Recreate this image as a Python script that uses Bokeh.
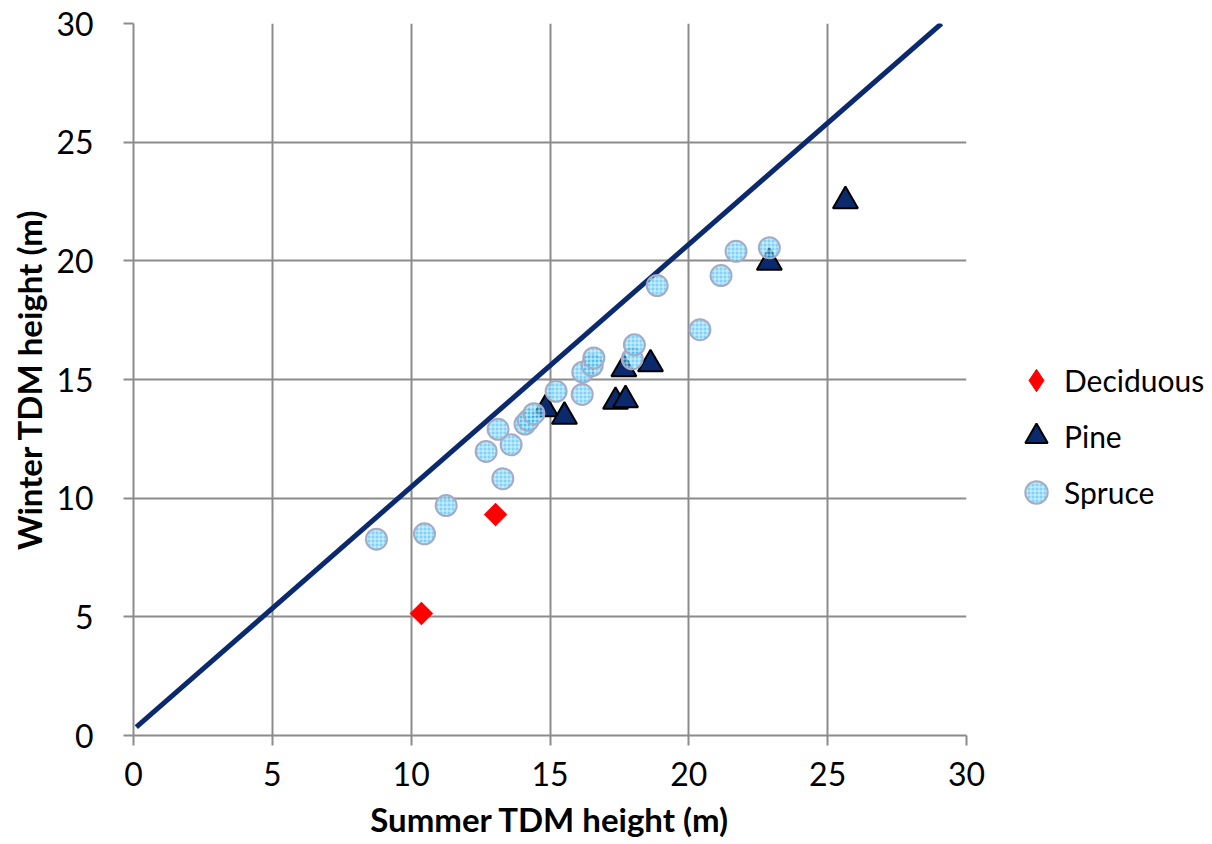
from bokeh.plotting import figure
from bokeh.models import Legend, LegendItem, FixedTicker
from bokeh.embed import file_html
from bokeh.resources import INLINE
import math

# ---- data ----
line_x = [0.1, 29.1]
line_y = [0.35, 30.0]

deciduous_x = [10.37, 13.04]
deciduous_y = [5.14, 9.31]

pine_x = [14.84, 15.52, 17.36, 17.72, 17.66, 18.62, 22.90, 25.64]
pine_y = [13.76, 13.44, 14.07, 14.14, 15.44, 15.65, 19.93, 22.52]

spruce_x = [8.75, 10.48, 11.26, 13.30, 12.70, 13.60, 13.13, 14.10, 14.22, 14.42,
            15.22, 16.16, 16.18, 16.52, 16.58, 17.96, 18.04, 18.86, 20.40, 21.16,
            21.70, 22.90]
spruce_y = [8.27, 8.50, 9.69, 10.82, 11.97, 12.25, 12.90, 13.12, 13.28, 13.56,
            14.50, 14.37, 15.31, 15.59, 15.91, 15.87, 16.46, 18.96, 17.10, 19.38,
            20.40, 20.55]

ticks = [0, 5, 10, 15, 20, 25, 30]

TICK_FONT = "Lato"
TITLE_FONT = "Lato"

p = figure(frame_width=833, frame_height=712, output_backend="svg",
           toolbar_location=None, x_range=(0, 30), y_range=(0, 30),
           min_border_left=133, min_border_right=246, min_border_top=23,
           min_border_bottom=109)
p.outline_line_color = None
p.background_fill_color = "white"
p.border_fill_color = "white"

for ax in (p.xaxis[0], p.yaxis[0]):
    ax.ticker = FixedTicker(ticks=ticks)
    ax.minor_tick_line_color = None
    ax.major_tick_in = 0
    ax.major_tick_out = 10
    ax.major_tick_line_color = "#8c8c8c"
    ax.major_tick_line_width = 2
    ax.axis_line_color = "#8c8c8c"
    ax.axis_line_width = 2
    ax.major_label_text_font = TICK_FONT
    ax.major_label_text_font_size = "32px"
    ax.major_label_text_color = "black"
    ax.axis_label_text_font = TITLE_FONT
    ax.axis_label_text_font_size = "33px"
    ax.axis_label_text_font_style = "bold"
    ax.axis_label_text_color = "black"

p.xaxis.major_label_standoff = 16
p.yaxis.major_label_standoff = 30
p.xaxis.axis_label = "Summer TDM height (m)"
p.yaxis.axis_label = "Winter TDM height (m)"
p.xaxis.axis_label_standoff = 10
p.yaxis.axis_label_standoff = 4

p.grid.ticker = FixedTicker(ticks=ticks)
p.grid.grid_line_color = "#8c8c8c"
p.grid.grid_line_width = 2

p.line(line_x, line_y, line_color="#0b2a6e", line_width=5)

# diamond used for the legend swatch (hidden beneath the rotated squares)
r_dec_leg = p.scatter(deciduous_x, deciduous_y, marker="diamond", size=22,
                      fill_color="#ff0000", line_color="#ff0000", line_width=1)
r_dec = p.scatter(deciduous_x, deciduous_y, marker="square", size=16,
                  angle=math.pi / 4, fill_color="#ff0000", line_color="#ff0000",
                  line_width=1)
r_pine = p.scatter(pine_x, pine_y, marker="triangle", size=25,
                   fill_color="#0b2a6e", line_color="black", line_width=2)
r_spr = p.scatter(spruce_x, spruce_y, marker="circle", size=21,
                  fill_color="#2fb8f0", fill_alpha=0.62,
                  line_color="#a5abc4", line_width=2,
                  hatch_pattern="+", hatch_color="white", hatch_alpha=0.65,
                  hatch_scale=4, hatch_weight=1)

legend = Legend(items=[LegendItem(label="Deciduous", renderers=[r_dec_leg]),
                       LegendItem(label="Pine", renderers=[r_pine]),
                       LegendItem(label="Spruce", renderers=[r_spr])],
                location=(42, 215))
legend.border_line_color = None
legend.background_fill_alpha = 0
legend.label_text_font = TICK_FONT
legend.label_text_font_size = "30px"
legend.label_text_color = "black"
legend.glyph_width = 56
legend.glyph_height = 56
legend.label_height = 56
legend.spacing = 0
legend.label_standoff = 0
legend.padding = 0
legend.margin = 0
p.add_layout(legend, "right")

open("out.html", "w").write(file_html(p, INLINE))
